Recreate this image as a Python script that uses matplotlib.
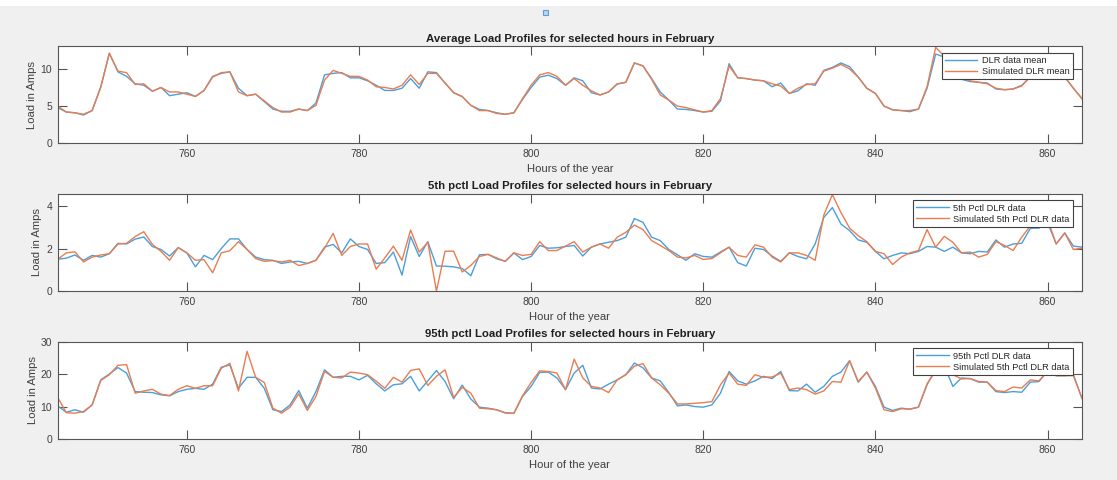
import numpy as np
import matplotlib.pyplot as plt
from matplotlib.patches import Rectangle

# hours of the year shown (february window)
heures = np.arange(745, 865)

# moyenne
avg_data = [4.8, 4.2, 4.1, 3.8, 4.4, 7.6, 12.1, 9.6, 9.0, 8.0,
            7.8, 7.0, 7.5, 6.4, 6.6, 6.8, 6.3, 7.1, 9.0, 9.4,
            9.6, 7.4, 6.4, 6.6, 5.6, 4.6, 4.3, 4.3, 4.6, 4.4,
            5.4, 9.2, 9.4, 9.5, 8.8, 8.8, 8.4, 7.8, 7.1, 7.1,
            7.4, 8.7, 7.4, 9.6, 9.5, 8.1, 6.8, 6.25, 5.1, 4.55,
            4.4, 4.1, 3.9, 4.1, 5.9, 7.5, 8.9, 9.15, 8.7, 7.8,
            8.8, 8.4, 6.8, 6.5, 6.9, 7.95, 8.2, 10.8, 10.4, 8.7,
            6.9, 5.8, 4.6, 4.55, 4.4, 4.2, 4.3, 5.7, 10.7, 8.8,
            8.7, 8.5, 8.4, 7.6, 8.1, 6.7, 7.05, 8.0, 7.8, 9.8,
            10.2, 10.8, 10.3, 8.9, 7.4, 6.7, 5.0, 4.5, 4.4, 4.25,
            4.6, 7.4, 12.0, 11.6, 10.0, 8.6, 8.3, 8.2, 8.1, 7.3,
            7.2, 7.3, 7.8, 8.9, 9.5, 9.8, 9.6, 8.9, 7.4, 6.0]
avg_sim = [5.0, 4.2, 4.1, 3.9, 4.4, 7.5, 12.1, 9.7, 9.5, 7.9,
           8.0, 7.0, 7.5, 6.9, 6.9, 6.6, 6.3, 7.1, 8.9, 9.5,
           9.6, 6.9, 6.4, 6.6, 5.7, 4.8, 4.2, 4.2, 4.6, 4.4,
           5.1, 8.5, 9.8, 9.4, 9.0, 9.0, 8.5, 7.6, 7.5, 7.3,
           7.8, 9.2, 7.9, 9.4, 9.4, 8.1, 6.8, 6.3, 5.1, 4.4,
           4.4, 4.0, 3.9, 4.1, 6.0, 7.8, 9.2, 9.5, 9.0, 7.8,
           8.7, 7.8, 7.05, 6.5, 6.9, 8.0, 8.2, 10.8, 10.4, 8.6,
           6.5, 5.8, 5.0, 4.8, 4.5, 4.2, 4.4, 6.0, 10.4, 8.8,
           8.7, 8.5, 8.4, 8.0, 7.7, 6.7, 7.4, 7.9, 8.0, 9.7,
           10.1, 10.6, 10.0, 8.9, 7.4, 6.7, 5.0, 4.5, 4.4, 4.4,
           4.6, 7.6, 12.9, 11.7, 10.2, 8.8, 8.4, 8.2, 8.0, 7.4,
           7.2, 7.3, 7.7, 9.0, 9.5, 9.6, 9.6, 8.9, 7.4, 6.0]

# 5e percentile
p5_data = [1.5, 1.55, 1.7, 1.45, 1.68, 1.6, 1.76, 2.25, 2.22, 2.45,
           2.55, 2.1, 1.96, 1.65, 2.05, 1.8, 1.14, 1.68, 1.48, 2.0,
           2.46, 2.46, 1.96, 1.6, 1.48, 1.45, 1.3, 1.37, 1.4, 1.3,
           1.45, 2.07, 2.2, 1.8, 2.46, 2.1, 1.96, 1.3, 1.34, 1.84,
           0.75, 2.57, 1.63, 2.33, 1.18, 1.17, 1.14, 1.06, 0.72, 1.71,
           1.73, 1.52, 1.4, 1.8, 1.48, 1.63, 2.15, 2.02, 2.04, 2.1,
           2.15, 1.65, 2.07, 2.22, 2.3, 2.38, 2.54, 3.42, 3.24, 2.54,
           2.38, 1.96, 1.71, 1.45, 1.76, 1.63, 1.6, 1.84, 2.07, 1.34,
           1.18, 2.02, 1.96, 1.65, 1.4, 1.8, 1.63, 1.52, 2.22, 3.47,
           3.94, 3.16, 2.85, 2.41, 2.3, 1.87, 1.52, 1.68, 1.8, 1.76,
           1.87, 2.1, 2.07, 1.87, 2.07, 1.8, 1.76, 1.87, 1.84, 2.41,
           2.07, 2.22, 2.25, 2.96, 2.97, 3.24, 2.22, 2.74, 2.12, 2.07]
p5_sim = [1.5, 1.8, 1.85, 1.37, 1.6, 1.7, 1.76, 2.22, 2.25, 2.57,
          2.8, 2.2, 1.87, 1.45, 2.05, 1.8, 1.45, 1.48, 0.86, 1.8,
          1.9, 2.33, 1.96, 1.53, 1.4, 1.43, 1.37, 1.45, 1.2, 1.3,
          1.45, 2.02, 2.72, 1.68, 2.1, 2.22, 2.22, 1.03, 1.56, 2.12,
          1.45, 2.88, 1.84, 2.3, 0.0, 1.88, 1.88, 0.9, 1.21, 1.63,
          1.73, 1.56, 1.4, 1.8, 1.68, 1.73, 2.33, 1.91, 1.91, 2.12,
          2.33, 1.84, 2.07, 2.22, 2.02, 2.54, 2.77, 3.11, 2.9, 2.38,
          2.15, 1.91, 1.6, 1.56, 1.68, 1.49, 1.53, 1.8, 2.07, 1.68,
          1.6, 2.18, 2.07, 1.6, 1.37, 1.8, 1.8, 1.68, 1.45, 3.58,
          4.55, 3.7, 2.97, 2.61, 2.33, 1.87, 1.76, 1.25, 1.6, 1.8,
          1.91, 2.9, 2.07, 2.58, 2.3, 1.8, 1.84, 1.6, 1.73, 2.33,
          2.15, 1.91, 2.54, 3.08, 3.08, 3.39, 2.22, 2.74, 1.96, 2.02]

# 95e percentile
p95_data = [10.2, 8.25, 9.0, 8.25, 10.5, 18.2, 20.0, 22.0, 20.3, 14.6,
            14.4, 14.3, 13.6, 13.3, 14.6, 15.3, 15.6, 15.3, 16.9, 22.1,
            22.8, 15.6, 19.0, 19.0, 15.6, 9.0, 8.45, 10.5, 14.9, 9.5,
            14.6, 21.3, 19.0, 19.3, 19.3, 18.2, 19.6, 17.0, 14.8, 16.7,
            17.0, 19.3, 14.8, 17.9, 21.1, 17.7, 12.4, 16.6, 12.3, 9.8,
            9.5, 9.0, 8.1, 7.9, 13.1, 16.2, 20.5, 20.6, 18.8, 15.2,
            20.3, 22.7, 15.7, 15.4, 16.9, 18.2, 19.8, 23.4, 21.9, 18.8,
            17.9, 14.3, 10.2, 10.5, 10.0, 9.8, 10.5, 14.1, 20.8, 17.9,
            16.9, 17.9, 19.3, 18.6, 20.8, 14.9, 14.8, 16.9, 14.4, 16.2,
            19.3, 20.6, 24.1, 17.5, 20.6, 16.2, 9.8, 8.8, 9.5, 9.2,
            9.8, 16.7, 21.5, 22.5, 16.2, 18.8, 18.6, 17.5, 17.5, 14.6,
            14.3, 14.6, 14.4, 17.5, 17.7, 21.0, 19.5, 19.5, 19.8, 12.5]
p95_sim = [12.8, 8.1, 7.95, 8.45, 10.5, 18.0, 19.8, 22.7, 22.9, 14.1,
           14.8, 15.3, 13.8, 13.4, 15.3, 16.4, 15.6, 16.4, 16.4, 21.8,
           23.3, 14.8, 27.0, 19.0, 17.4, 9.5, 7.95, 9.8, 13.9, 8.8,
           13.1, 20.8, 19.0, 18.8, 20.6, 20.3, 19.8, 17.8, 15.6, 19.0,
           17.5, 21.1, 21.6, 16.5, 19.3, 21.3, 12.8, 15.9, 14.1, 9.5,
           9.3, 9.0, 8.0, 7.9, 13.3, 17.4, 21.0, 20.8, 20.3, 15.2,
           24.6, 18.8, 16.2, 15.7, 14.3, 18.2, 19.8, 22.4, 23.2, 18.8,
           16.7, 14.1, 10.8, 10.8, 11.0, 11.2, 11.5, 16.7, 20.3, 16.9,
           16.5, 19.8, 19.0, 19.1, 20.3, 15.2, 15.7, 15.2, 13.8, 14.8,
           17.7, 17.5, 24.1, 17.7, 20.6, 15.7, 9.0, 8.45, 9.3, 9.2,
           9.8, 17.0, 21.0, 22.0, 19.8, 18.5, 18.6, 17.7, 17.5, 14.9,
           14.6, 16.0, 15.7, 18.2, 17.9, 20.8, 19.5, 19.5, 19.5, 12.5]

bleu = '#4a9fdc'
orange = '#e97d50'
gris = '#404040'

plt.rcParams['font.family'] = ['Liberation Sans', 'DejaVu Sans']

fig = plt.figure(figsize=(11.17, 4.8), dpi=100)
fig.patch.set_facecolor('#f0f0f0')
# bandeau blanc en haut + petit carre bleu
fig.patches.append(Rectangle((0, 1 - 6/480), 1, 6/480, transform=fig.transFigure,
                             facecolor='white', edgecolor='none', zorder=0))
fig.patches.append(Rectangle((543/1117, 1 - 15/480), 5/1117, 5/480, transform=fig.transFigure,
                             facecolor='#b8d6f0', edgecolor='#5a9fd8', linewidth=0.8, zorder=1))

panneaux = [
    (0.7015, avg_data, avg_sim, 13.1, [0, 5, 10], -0.020,
     "Average Load Profiles for selected hours in February", "Hours of the year",
     ["DLR data mean", "Simulated DLR mean"]),
    (0.39375, p5_data, p5_sim, 4.6, [0, 2, 4], -0.015,
     "5th pctl Load Profiles for selected hours in February", "Hour of the year",
     ["5th Pctl DLR data", "Simulated 5th Pctl DLR data"]),
    (0.0854, p95_data, p95_sim, 30, [0, 10, 20, 30], -0.019,
     "95th pctl Load Profiles for selected hours in February", "Hour of the year",
     ["95th Pctl DLR data", "Simulated 5th Pctl DLR data"]),
]

for bas, y1, y2, ymax, yt, ylx, titre, xlab, noms in panneaux:
    ax = fig.add_axes([0.05166, bas, 0.9170, 0.2030])
    ax.plot(heures, y1, color=bleu, lw=1.0, label=noms[0])
    ax.plot(heures, y2, color=orange, lw=1.0, label=noms[1])
    ax.set_xlim(745, 864)
    ax.set_ylim(0, ymax)
    ax.set_xticks([760, 780, 800, 820, 840, 860])
    ax.set_yticks(yt)
    ax.tick_params(direction='in', top=True, right=True, length=6.5, width=0.8,
                   colors='#555555', labelcolor=gris, labelsize=7.5, pad=4)
    for s in ax.spines.values():
        s.set_color('#555555')
        s.set_linewidth(0.8)
    ax.set_title(titre, fontsize=8.2, fontweight='bold', color='#202020', pad=3)
    ax.set_xlabel(xlab, fontsize=8.1, color=gris, labelpad=4)
    ax.set_ylabel("Load in Amps", fontsize=8.1, color=gris)
    ax.yaxis.set_label_coords(ylx, 0.5)
    leg = ax.legend(loc='upper right', bbox_to_anchor=(0.991, 0.93), borderaxespad=0,
                    fontsize=6.7, fancybox=False, framealpha=1, edgecolor='#404040',
                    handlelength=3.5, handletextpad=0.45, labelspacing=0.2,
                    borderpad=0.36)
    leg.get_frame().set_linewidth(0.8)
    for t in leg.get_texts():
        t.set_color('#262626')

plt.savefig('out.png', dpi=100, facecolor=fig.get_facecolor())
